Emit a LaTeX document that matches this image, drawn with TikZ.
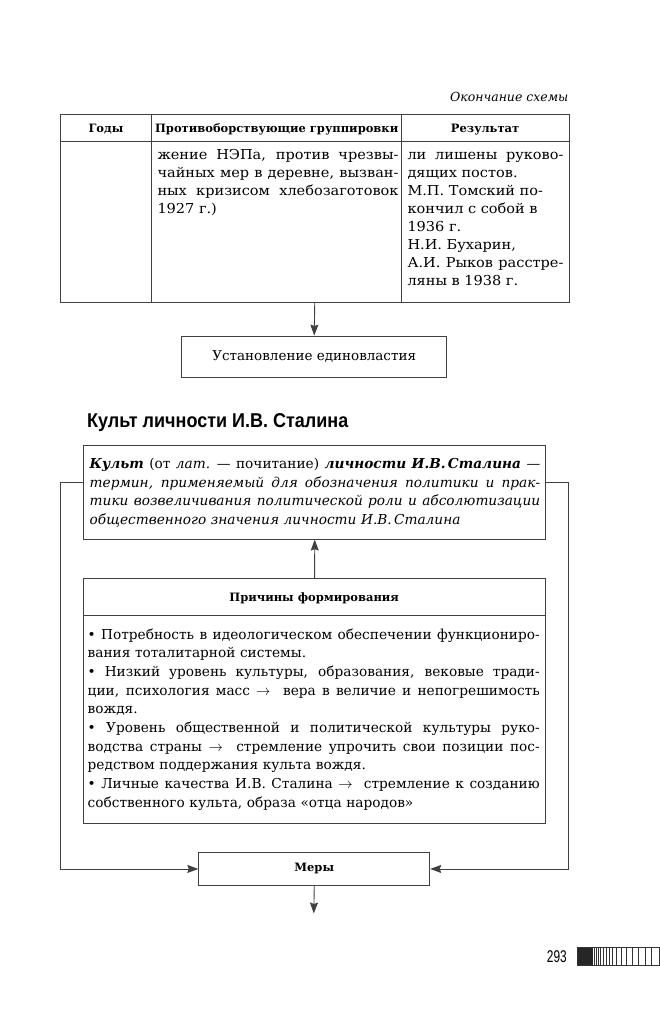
\documentclass[tikz,border=0pt]{standalone}
\usepackage{fontspec}
\setmainfont{DejaVu Serif}
\newfontfamily\tblfont[FakeStretch=1.06]{DejaVu Serif}
\newfontfamily\titlefont[FakeStretch=0.9]{Liberation Sans}
\newfontfamily\pgfont[FakeStretch=0.7]{Liberation Sans}
\usetikzlibrary{arrows.meta}
\def\jw{100pt}
\newcommand\jline[1]{\noindent\hbox to\jw{\spaceskip=.32em plus 3em minus .06em\relax #1}}
\tikzset{
  frame/.style={draw=black!75, line width=0.9pt, inner sep=0pt},
  con/.style={draw=black!75, line width=0.9pt},
  tip/.style={-{Stealth[length=11pt,width=8pt,inset=1.5pt]}},
  body/.style={inner sep=0pt, anchor=base west, align=left, font=\fontsize{13.7}{18.7}\selectfont},
  tbody/.style={inner sep=0pt, anchor=base west, align=left, font=\tblfont\fontsize{13.7}{18}\selectfont},
  hdr/.style={inner sep=0pt, anchor=base, font=\fontsize{11.5}{14}\selectfont\bfseries},
}
\begin{document}
\begin{tikzpicture}[x=1pt,y=-1pt]
\useasboundingbox (0,0) rectangle (660,1024);
% caption
\node[inner sep=0pt, anchor=base east, font=\fontsize{12.5}{15}\selectfont\itshape] (cap) at (568.6,102) {Окончание схемы};
% table
\node[frame, minimum width=508.6pt, minimum height=187.4pt, anchor=north west] (tbl) at (60,114.3) {};
\draw[con] (60,141.7) -- (568.6,141.7);
\draw[con] (151.7,114.3) -- (151.7,301.7);
\draw[con] (401.7,114.3) -- (401.7,301.7);
\node[hdr] (h1) at (105.9,132.5) {Годы};
\node[hdr] (h2) at (276.7,132.5) {Противоборствующие группировки};
\node[hdr] (h3) at (485.1,132.5) {Результат};
\node[tbody, text width=241pt] (c2) at (157.3,159.5) {\def\jw{241pt}%
\jline{жение НЭПа, против чрезвы-}\\
\jline{чайных мер в деревне, вызван-}\\
\jline{ных кризисом хлебозаготовок}\\
1927 г.)};
\node[tbody, text width=156pt] (c3) at (407.3,159.5) {\def\jw{156pt}%
\jline{ли лишены руково-}\\
дящих постов.\\
М.П. Томский по-\\
кончил с собой в\\
1936 г.\\
Н.И. Бухарин,\\
\jline{А.И. Рыков расстре-}\\
ляны в 1938 г.};
% single power box
\node[frame, minimum width=265pt, minimum height=41.7pt, font=\fontsize{13.5}{16}\selectfont] (ust) at (314.2,356.9) {Установление единовластия};
\draw[con,tip] (tbl.south) -- (ust.north);
% title
\node[inner sep=0pt, anchor=base west, font=\fontsize{20}{24}\titlefont\bfseries] (title) at (87,427.7) {Культ личности И.В. Сталина};
% definition box
\node[frame, minimum width=462pt, minimum height=94pt, anchor=north west] (def) at (83.3,444.7) {};
\node[body, text width=450.5pt] (deftxt) at (89.5,468.5) {\def\jw{450.5pt}%
\jline{\textbf{\textit{Культ}} (от \textit{лат.} — почитание) \textbf{\textit{личности И.В.\,Сталина}} —}\\
\jline{\textit{термин, применяемый для обозначения политики и прак-}}\\
\jline{\textit{тики возвеличивания политической роли и абсолютизации}}\\
\textit{общественного значения личности И.В.\,Сталина}};
% causes box
\node[frame, minimum width=461.7pt, minimum height=245pt, anchor=north west] (prich) at (83.3,578.3) {};
\draw[con] (83.3,615.7) -- (545,615.7);
\node[hdr] (prh) at (314.2,601) {Причины формирования};
\node[body, text width=452pt] (prtxt) at (87.5,639) {\def\jw{452pt}%
\jline{• Потребность в идеологическом обеспечении функциониро-}\\
вания тоталитарной системы.\\
\jline{• Низкий уровень культуры, образования, вековые тради-}\\
\jline{ции, психология масс $\rightarrow$\ \ вера в величие и непогрешимость}\\
вождя.\\
\jline{• Уровень общественной и политической культуры руко-}\\
\jline{водства страны $\rightarrow$\ \ стремление упрочить свои позиции пос-}\\
редством поддержания культа вождя.\\
\jline{• Личные качества И.В. Сталина $\rightarrow$\ \ стремление к созданию}\\
собственного культа, образа «отца народов»};
\draw[con,tip] (prich.north) -- (def.south);
% measures box
\node[frame, minimum width=231pt, minimum height=33.6pt, anchor=north west] (mery) at (198.3,851.7) {};
\node[hdr, anchor=center] (merytxt) at (mery.center) {Меры};
% side connectors
\coordinate (lvl) at (0,482.7);
\coordinate (lrail) at (60.7,0);
\coordinate (rrail) at (568,0);
\draw[con,tip] (def.west |- lvl) -- (lrail |- lvl) -- (lrail |- mery.west) -- (mery.west);
\draw[con,tip] (def.east |- lvl) -- (rrail |- lvl) -- (rrail |- mery.east) -- (mery.east);
\coordinate (endpt) at (313.8,913.5);
\draw[con,tip] (mery.south) -- (endpt);
% page number
\node[inner sep=0pt, anchor=base east, font=\fontsize{17}{20}\pgfont] (pg) at (567,962) {293};
\fill[black!85] (577,947) rectangle (593,965);
\foreach \xx in {594.5,596.5,598.5,600.7,603.3,606,609,612.3,616.7,621.7,626.7,632.7,638.3,645,651.7} {
  \draw[black!80, line width=0.8pt] (\xx,947) -- (\xx,965);
}
\draw[black!80, line width=0.8pt] (577,947) rectangle (659.3,965);
\end{tikzpicture}
\end{document}
